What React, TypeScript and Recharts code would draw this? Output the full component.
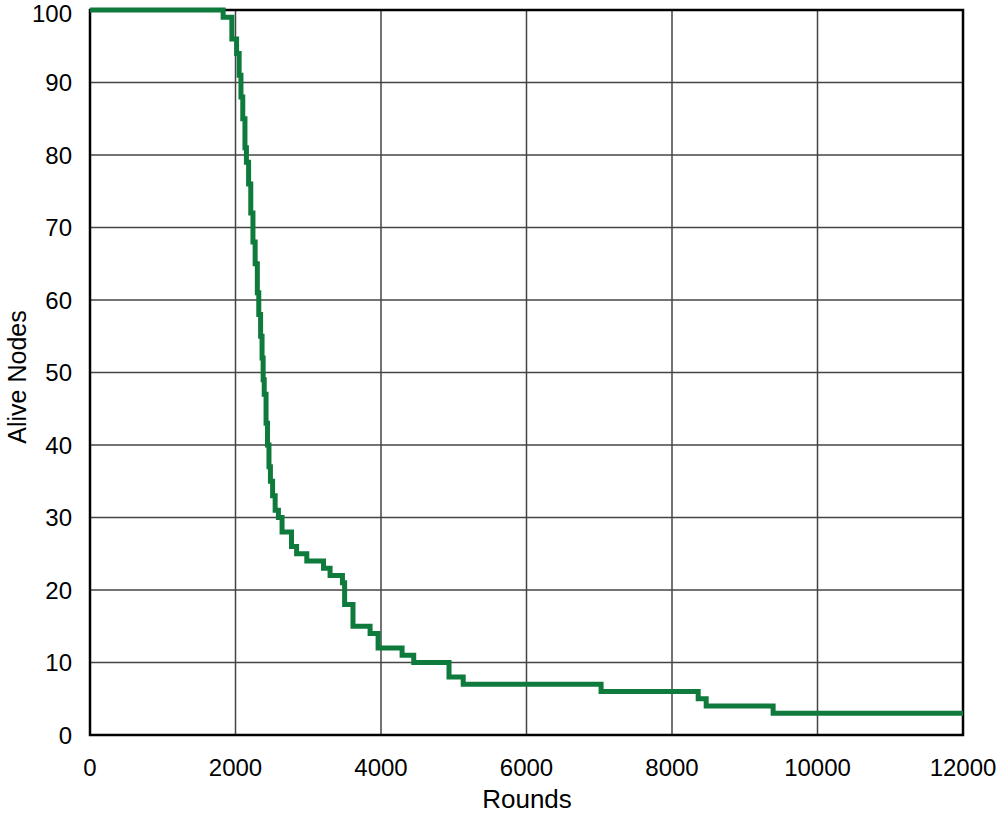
import { LineChart, Line, XAxis, YAxis, CartesianGrid, ReferenceArea, Label } from 'recharts';

// round at which each new alive-node count starts
const rounds = [
  0, 1830, 1950, 2015, 2050, 2075, 2100, 2130, 2150, 2180, 2210, 2240, 2270, 2300, 2320, 2345,
  2365, 2380, 2395, 2420, 2440, 2460, 2480, 2510, 2545, 2590, 2640, 2770, 2840, 2980, 3210,
  3300, 3470, 3500, 3615, 3850, 3960, 4290, 4450, 4935, 5130, 7025, 8360, 8470, 9390, 12000,
];
const aliveNodes = [
  100, 99, 96, 94, 91, 88, 85, 81, 79, 76, 72, 68, 65, 61, 58, 55,
  52, 49, 47, 43, 40, 37, 35, 33, 31, 30, 28, 26, 25, 24, 23,
  22, 21, 18, 15, 14, 12, 11, 10, 8, 7, 6, 5, 4, 3, 3,
];
const xTicks = [0, 2000, 4000, 6000, 8000, 10000, 12000];
const yTicks = [0, 10, 20, 30, 40, 50, 60, 70, 80, 90, 100];

const data = rounds.map((r, i) => ({ round: r, alive: aliveNodes[i] }));

const font = '"Liberation Sans", Arial, sans-serif';
const tickStyle = { fontSize: 24, fill: '#000', fontFamily: font };

export default function App() {
  return (
    <div style={{ position: 'absolute', left: 0, top: 0, background: '#fff' }}>
      <LineChart width={1001} height={813} data={data} margin={{ top: 10, right: 38, left: 30, bottom: 38 }}>
        <CartesianGrid stroke="#444" strokeWidth={1.5} horizontalValues={yTicks} verticalValues={xTicks} />
        <XAxis
          dataKey="round"
          type="number"
          domain={[0, 12000]}
          ticks={xTicks}
          height={40}
          tickLine={false}
          axisLine={false}
          tickMargin={18}
          tick={tickStyle}
        >
          <Label
            content={() => (
              <text x={527} y={808} textAnchor="middle" fontSize={26} fontFamily={font} fill="#000">
                Rounds
              </text>
            )}
          />
        </XAxis>
        <YAxis
          type="number"
          domain={[0, 100]}
          ticks={yTicks}
          width={60}
          tickLine={false}
          axisLine={false}
          tickMargin={12}
          tick={tickStyle}
        >
          <Label
            content={() => (
              <text
                x={26}
                y={377}
                transform="rotate(-90 26 377)"
                textAnchor="middle"
                fontSize={25}
                fontFamily={font}
                fill="#000"
              >
                Alive Nodes
              </text>
            )}
          />
        </YAxis>
        <ReferenceArea x1={0} x2={12000} y1={0} y2={100} fill="none" stroke="#000" strokeWidth={2.5} ifOverflow="visible" />
        <Line
          type="stepAfter"
          dataKey="alive"
          stroke="#0e7a3c"
          strokeWidth={5}
          dot={false}
          isAnimationActive={false}
        />
      </LineChart>
    </div>
  );
}
